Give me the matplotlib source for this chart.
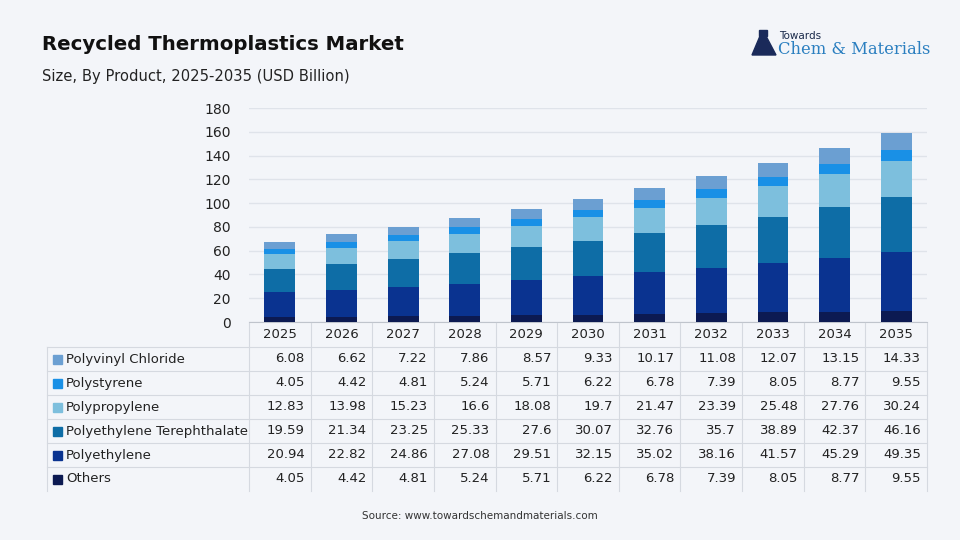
import matplotlib.pyplot as plt
from matplotlib import font_manager
import numpy as np

years = ['2025', '2026', '2027', '2028', '2029', '2030', '2031', '2032', '2033', '2034', '2035']

# Series, listed bottom (Others) to top (Polyvinyl Chloride)
others = [4.05, 4.42, 4.81, 5.24, 5.71, 6.22, 6.78, 7.39, 8.05, 8.77, 9.55]
polyethylene = [20.94, 22.82, 24.86, 27.08, 29.51, 32.15, 35.02, 38.16, 41.57, 45.29, 49.35]
pet = [19.59, 21.34, 23.25, 25.33, 27.6, 30.07, 32.76, 35.7, 38.89, 42.37, 46.16]
polypropylene = [12.83, 13.98, 15.23, 16.6, 18.08, 19.7, 21.47, 23.39, 25.48, 27.76, 30.24]
polystyrene = [4.05, 4.42, 4.81, 5.24, 5.71, 6.22, 6.78, 7.39, 8.05, 8.77, 9.55]
pvc = [6.08, 6.62, 7.22, 7.86, 8.57, 9.33, 10.17, 11.08, 12.07, 13.15, 14.33]

series_names = ['Others', 'Polyethylene', 'Polyethylene Terephthalate',
                'Polypropylene', 'Polystyrene', 'Polyvinyl Chloride']
series_values = [others, polyethylene, pet, polypropylene, polystyrene, pvc]
series_colors = ['#0c1a52', '#0a3390', '#0e6da6', '#7dbfdd', '#1990e6', '#6b9fd2']

BG = '#f3f5f9'
W, H = 960, 540


def fx(px):
    return px / W


def fy(py):
    return 1 - py / H


def main():
    fig = plt.figure(figsize=(9.6, 5.4), dpi=100, facecolor=BG)

    # Title: narrow bold font if one is installed
    installed = {f.name for f in font_manager.fontManager.ttflist}
    title_family, title_size = 'DejaVu Sans', 14.2
    for fam, size in [('Liberation Sans Narrow', 17), ('DejaVu Sans Condensed', 15.5)]:
        if fam in installed:
            title_family, title_size = fam, size
            break
    fig.text(fx(42), fy(44), 'Recycled Thermoplastics Market', fontsize=title_size, fontweight='bold',
             family=title_family, color='#111111', va='center')
    fig.text(fx(42), fy(76), 'Size, By Product, 2025-2035 (USD Billion)', fontsize=10.6,
             color='#222222', va='center')

    # Logo: flask icon + text
    flask = plt.Polygon([(fx(760), fy(36)), (fx(766), fy(36)), (fx(776), fy(55)), (fx(752), fy(55))],
                        closed=True, color='#1a2a5a', transform=fig.transFigure)
    fig.add_artist(flask)
    fig.add_artist(plt.Rectangle((fx(759), fy(36)), 8 / W, 6 / H, color='#1a2a5a',
                                 transform=fig.transFigure))
    fig.text(fx(779), fy(36), 'Towards', fontsize=7.5, color='#1a2a4a', va='center')
    fig.text(fx(778), fy(50), 'Chem & Materials', fontsize=11.8, color='#2b7fc0', va='center',
             family='DejaVu Serif')

    # Bar chart axes
    left, right = 249, 927
    top, bottom = 108, 322
    ax = fig.add_axes([fx(left), fy(bottom), fx(right - left), (bottom - top) / H])
    ax.set_facecolor(BG)
    x = np.arange(len(years))
    base = np.zeros(len(years))
    for name, vals, col in zip(series_names, series_values, series_colors):
        ax.bar(x, vals, 0.5, bottom=base, color=col, label=name, zorder=3)
        base = base + np.array(vals)
    ax.set_xlim(-0.5, len(years) - 0.5)
    ax.set_ylim(0, 180)
    ax.set_yticks(range(0, 181, 20))
    ax.yaxis.grid(True, color='#dfe3ea', linewidth=1, zorder=0)
    ax.set_xticks([])
    for s in ['top', 'right', 'left']:
        ax.spines[s].set_visible(False)
    ax.spines['bottom'].set_color('#bfc4cc')
    ax.tick_params(axis='y', length=0, labelsize=10, colors='#222222', pad=13)

    # Data table below
    row_h = 24
    col_w = (right - left) / len(years)
    header_y = 335
    line_col = '#d5d9e0'
    for i, yr in enumerate(years):
        fig.text(fx(left + col_w * (i + 0.5)), fy(header_y), yr, fontsize=9.5,
                 ha='center', va='center', color='#222222')
    # vertical separators
    for i in range(len(years) + 1):
        xx = fx(left + col_w * i)
        fig.add_artist(plt.Line2D([xx, xx], [fy(323), fy(491)], color=line_col, lw=0.8))
    xx = fx(47)
    fig.add_artist(plt.Line2D([xx, xx], [fy(347), fy(491)], color=line_col, lw=0.8))

    table_rows = list(zip(series_names, series_values, series_colors))[::-1]
    for r, (name, vals, col) in enumerate(table_rows):
        y0 = 347 + r * row_h
        yc = y0 + row_h / 2
        fig.add_artist(plt.Line2D([fx(47), fx(right)], [fy(y0), fy(y0)], color=line_col, lw=0.8))
        fig.add_artist(plt.Rectangle((fx(53), fy(yc + 4.5)), 9 / W, 9 / H, color=col,
                                     transform=fig.transFigure))
        fig.text(fx(66), fy(yc), name, fontsize=9.5, va='center', color='#222222')
        for i, v in enumerate(vals):
            fig.text(fx(left + col_w * (i + 1) - 6), fy(yc), f'{v:g}', fontsize=9.5,
                     ha='right', va='center', color='#222222')

    fig.text(0.5, fy(516), 'Source: www.towardschemandmaterials.com', fontsize=7.5,
             ha='center', va='center', color='#333333')

    fig.savefig('out.png', dpi=100, facecolor=BG)


if __name__ == '__main__':
    main()
